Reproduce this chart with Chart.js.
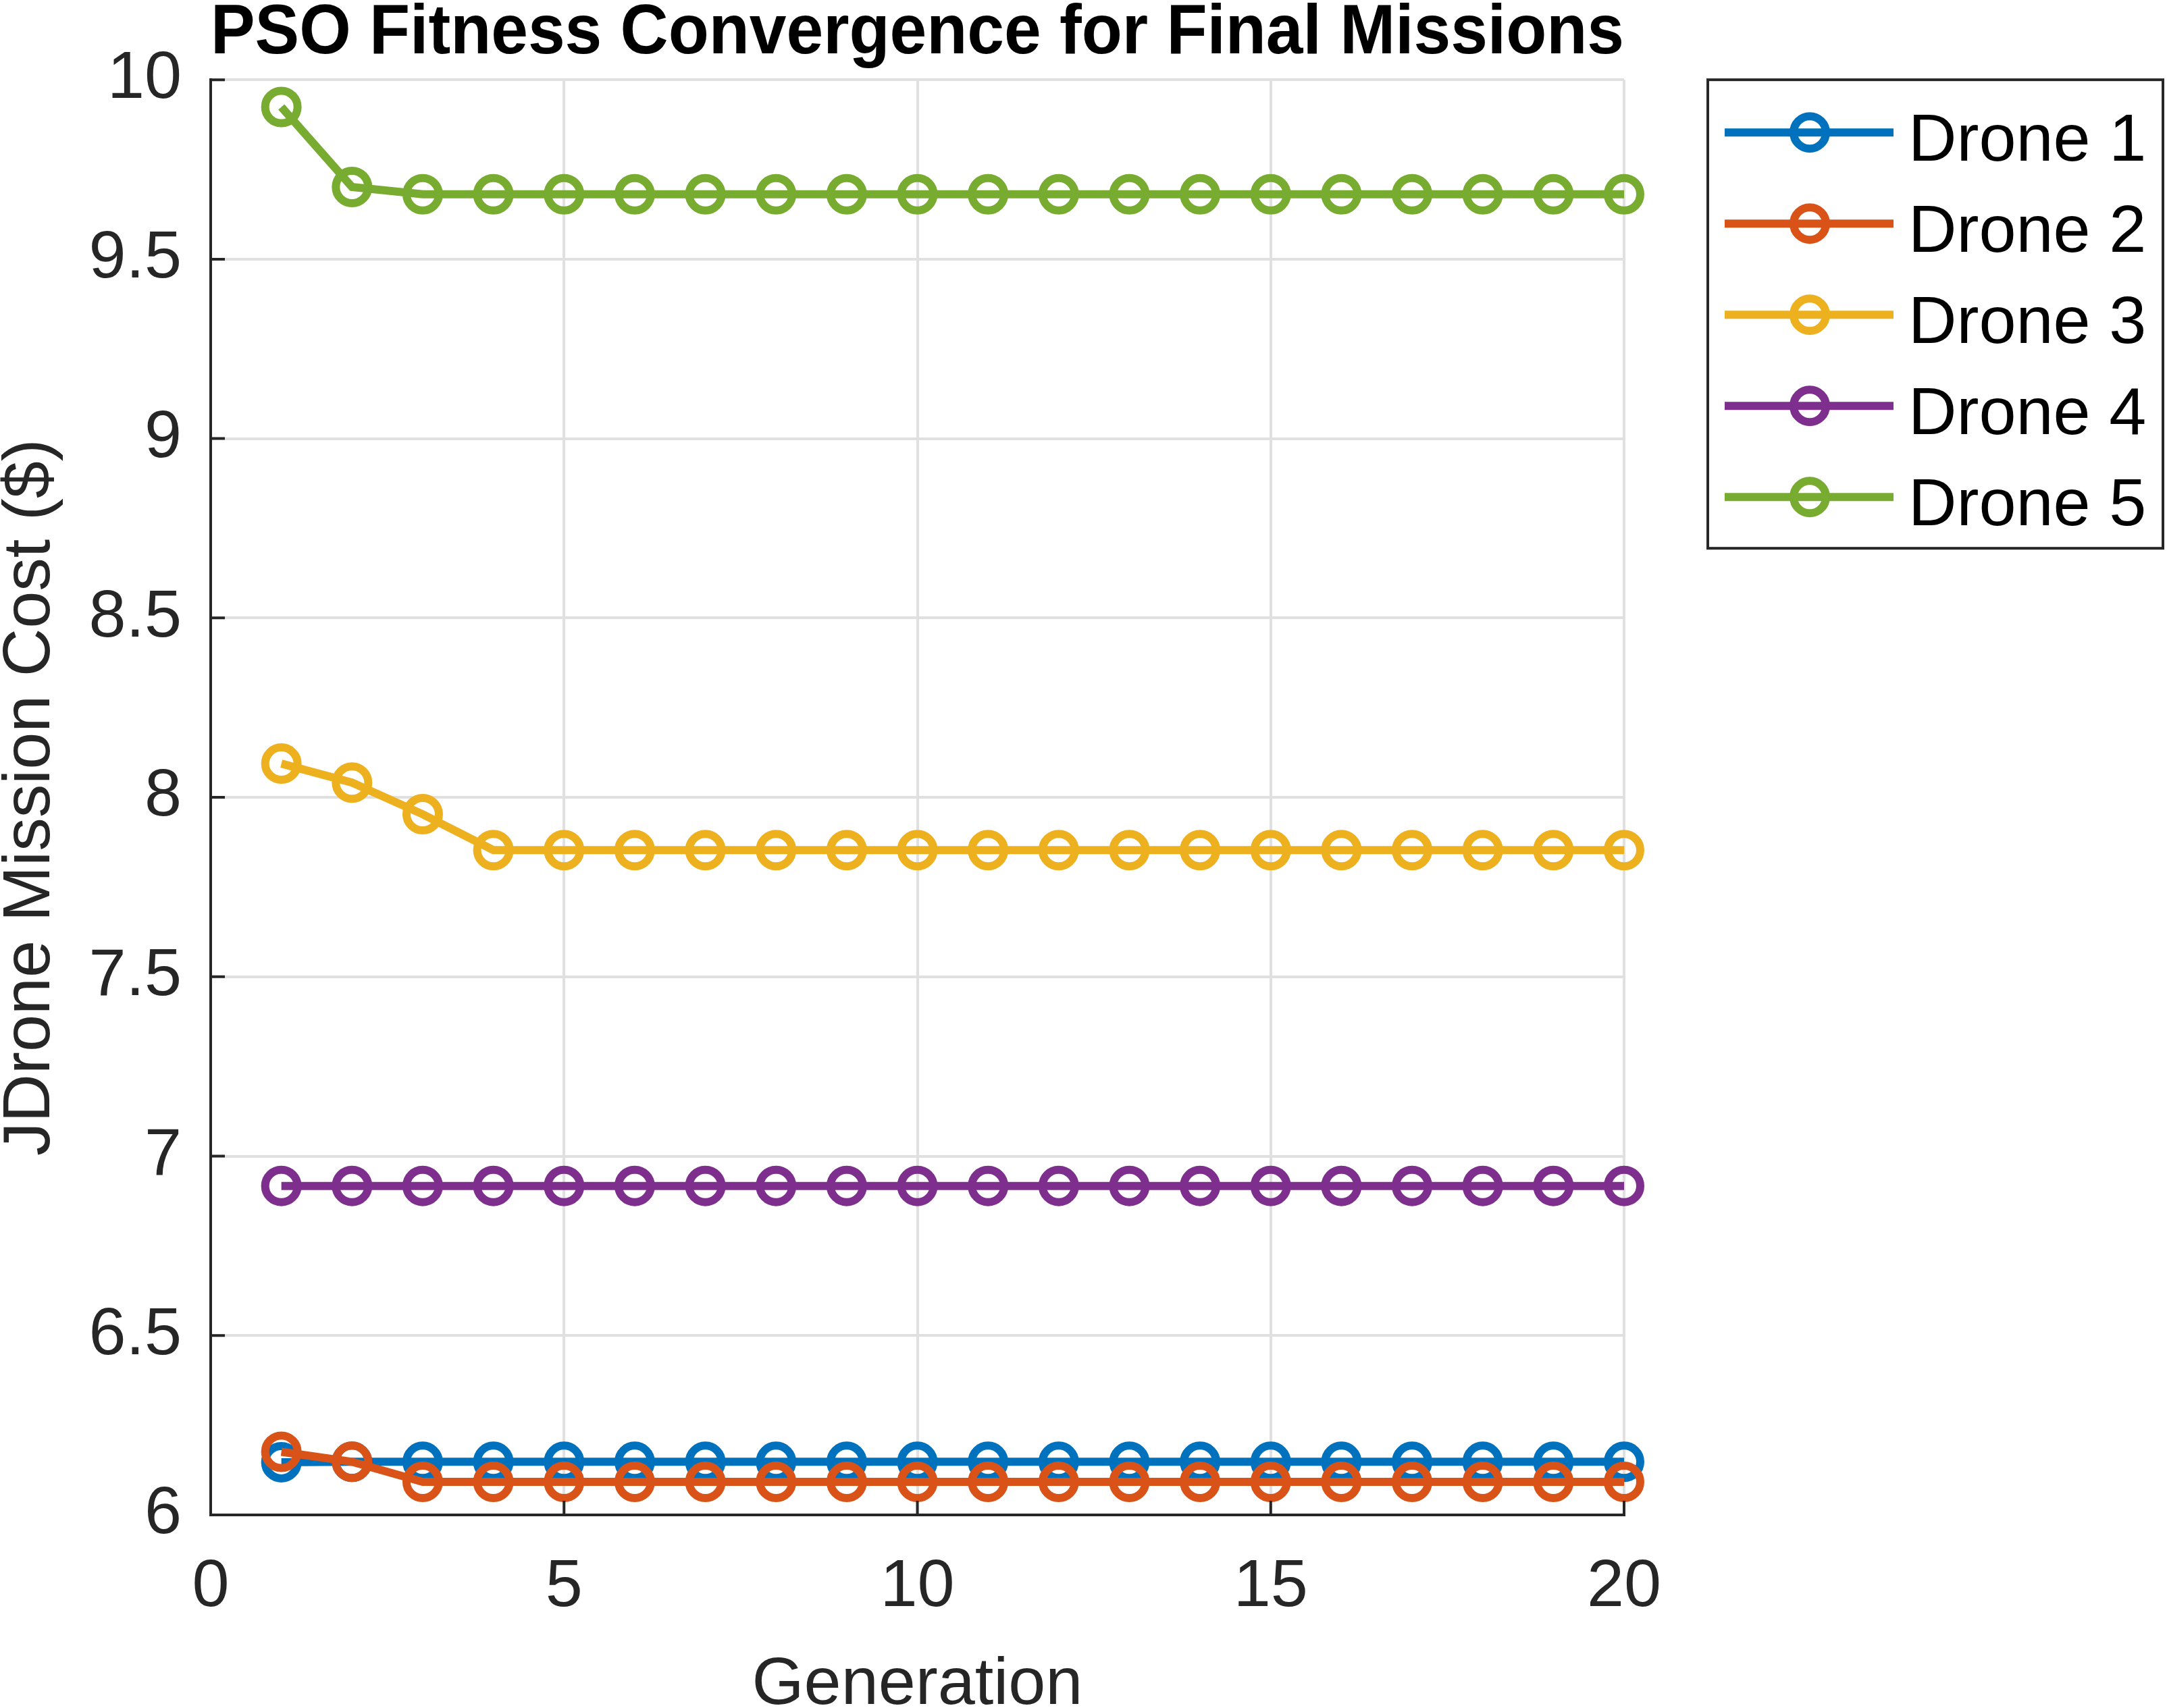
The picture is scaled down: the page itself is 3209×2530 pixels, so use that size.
<!DOCTYPE html>
<html>
<head>
<meta charset="utf-8">
<script src="https://cdn.jsdelivr.net/npm/chart.js@4.4.1/dist/chart.umd.min.js"></script>
<style>
html,body{margin:0;padding:0;background:#fff;}
canvas{display:block;}
</style>
</head>
<body>
<canvas id="c" width="3209" height="2530"></canvas>
<script>
// ---- data ----
const chartTitle = 'PSO Fitness Convergence for Final Missions';
const xLabel = 'Generation';
const yLabel = 'JDrone Mission Cost ($)';
const generations = [1, 2, 3, 4, 5, 6, 7, 8, 9, 10, 11, 12, 13, 14, 15, 16, 17, 18, 19, 20];
const seriesNames = ['Drone 1', 'Drone 2', 'Drone 3', 'Drone 4', 'Drone 5'];
const drone1 = [6.147, 6.148, 6.148, 6.148, 6.148, 6.148, 6.148, 6.148, 6.148, 6.148, 6.148, 6.148, 6.148, 6.148, 6.148, 6.148, 6.148, 6.148, 6.148, 6.148];
const drone2 = [6.176, 6.148, 6.092, 6.092, 6.092, 6.092, 6.092, 6.092, 6.092, 6.092, 6.092, 6.092, 6.092, 6.092, 6.092, 6.092, 6.092, 6.092, 6.092, 6.092];
const drone3 = [8.094, 8.041, 7.953, 7.853, 7.853, 7.853, 7.853, 7.853, 7.853, 7.853, 7.853, 7.853, 7.853, 7.853, 7.853, 7.853, 7.853, 7.853, 7.853, 7.853];
const drone4 = [6.917, 6.917, 6.917, 6.917, 6.917, 6.917, 6.917, 6.917, 6.917, 6.917, 6.917, 6.917, 6.917, 6.917, 6.917, 6.917, 6.917, 6.917, 6.917, 6.917];
const drone5 = [9.924, 9.701, 9.681, 9.681, 9.681, 9.681, 9.681, 9.681, 9.681, 9.681, 9.681, 9.681, 9.681, 9.681, 9.681, 9.681, 9.681, 9.681, 9.681, 9.681];
const xMin = 0, xMax = 20, xStep = 5;
const yMin = 6, yMax = 10, yStep = 0.5;

// ---- styles ----
const colors = ['#0072BD', '#D95319', '#EDB120', '#7E2F8E', '#77AC30'];
const FONT = "'Liberation Sans', Arial, Helvetica, sans-serif";
const AXIS_COLOR = '#262626';
const GRID_COLOR = '#e0e0e0';

const allSeries = [drone1, drone2, drone3, drone4, drone5];

const datasets = allSeries.map((vals, i) => ({
  label: seriesNames[i],
  data: generations.map((g, j) => ({ x: g, y: vals[j] })),
  borderColor: colors[i],
  backgroundColor: 'rgba(0,0,0,0)',
  pointBorderColor: colors[i],
  pointBackgroundColor: 'rgba(0,0,0,0)',
  pointRadius: 24,
  pointHoverRadius: 24,
  pointBorderWidth: 12,
  borderWidth: 12,
  tension: 0,
  fill: false,
  clip: false,
  order: allSeries.length - i
}));

const matlabPlugin = {
  id: 'matlabPlugin',
  afterDatasetsDraw(chart) {
    const { ctx, chartArea: a, scales: { x, y } } = chart;
    ctx.save();
    ctx.strokeStyle = AXIS_COLOR;
    ctx.lineWidth = 4;
    ctx.beginPath();
    x.ticks.forEach(t => {
      const px = x.getPixelForValue(t.value);
      ctx.moveTo(px, a.bottom);
      ctx.lineTo(px, a.bottom - 21);
    });
    y.ticks.forEach(t => {
      const py = y.getPixelForValue(t.value);
      ctx.moveTo(a.left, py);
      ctx.lineTo(a.left + 21, py);
    });
    ctx.stroke();
    ctx.restore();
  },
  afterDraw(chart) {
    const { ctx, chartArea: a } = chart;
    const bx = a.right + 124, by = a.top, bw = 674, bh = 694;
    ctx.save();
    ctx.fillStyle = '#ffffff';
    ctx.fillRect(bx, by, bw, bh);
    ctx.strokeStyle = AXIS_COLOR;
    ctx.lineWidth = 4;
    ctx.strokeRect(bx, by, bw, bh);
    chart.data.datasets.forEach((ds, i) => {
      const ry = by + 78 + i * 135;
      ctx.strokeStyle = ds.borderColor;
      ctx.lineWidth = 12;
      ctx.beginPath();
      ctx.moveTo(bx + 25, ry);
      ctx.lineTo(bx + 275, ry);
      ctx.stroke();
      ctx.beginPath();
      ctx.arc(bx + 151, ry, 24, 0, Math.PI * 2);
      ctx.stroke();
      ctx.fillStyle = '#000000';
      ctx.font = '99px ' + FONT;
      ctx.textAlign = 'left';
      ctx.textBaseline = 'alphabetic';
      ctx.fillText(ds.label, bx + 297, ry + 42);
    });
    ctx.restore();
  }
};

new Chart(document.getElementById('c'), {
  type: 'line',
  data: { datasets },
  options: {
    responsive: false,
    animation: false,
    devicePixelRatio: 1,
    layout: { padding: { left: 0, right: 804, top: 0, bottom: 0 } },
    plugins: {
      legend: { display: false },
      tooltip: { enabled: false },
      title: {
        display: true,
        text: chartTitle,
        fullSize: false,
        color: '#000000',
        font: { family: FONT, size: 103, weight: 'bold', lineHeight: 0.72 },
        padding: { top: 14, bottom: 30 }
      }
    },
    scales: {
      x: {
        type: 'linear',
        min: xMin, max: xMax,
        ticks: { stepSize: xStep, color: AXIS_COLOR, font: { family: FONT, size: 99 }, padding: 0, maxRotation: 0,
                 callback: v => String(Number(v)) },
        grid: { color: GRID_COLOR, lineWidth: 4, drawTicks: true, tickLength: 48, tickColor: 'rgba(0,0,0,0)' },
        border: { display: true, color: AXIS_COLOR, width: 4 },
        title: { display: true, text: xLabel, color: AXIS_COLOR, font: { family: FONT, size: 99, lineHeight: 0.68 }, padding: { top: 0, bottom: 0 } },
        afterFit(s) { s.height = 286; }
      },
      y: {
        type: 'linear',
        min: yMin, max: yMax,
        ticks: { stepSize: yStep, color: AXIS_COLOR, font: { family: FONT, size: 99 }, padding: 0,
                 callback: v => String(Number(v)) },
        grid: { color: GRID_COLOR, lineWidth: 4, drawTicks: true, tickLength: 43, tickColor: 'rgba(0,0,0,0)' },
        border: { display: true, color: AXIS_COLOR, width: 4 },
        title: { display: true, text: yLabel, color: AXIS_COLOR, font: { family: FONT, size: 99, lineHeight: 0.72 }, padding: { top: 10, bottom: 0 } },
        afterFit(s) { s.width = 312; }
      }
    }
  },
  plugins: [matlabPlugin]
});
</script>
</body>
</html>
